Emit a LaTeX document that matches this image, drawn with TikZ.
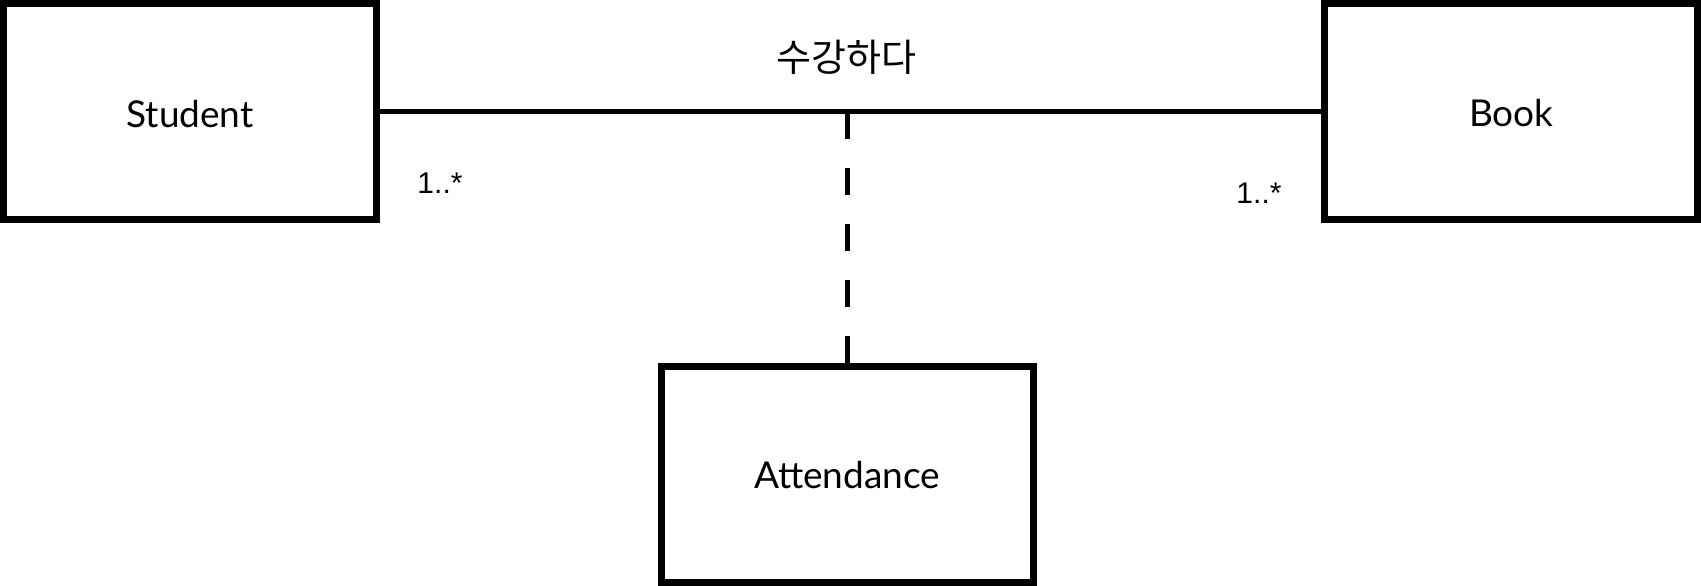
\documentclass[tikz,border=0pt]{standalone}
\usepackage{fontspec}
\setmainfont{Lato}
\newfontfamily\krfont{Noto Sans CJK KR}
\newfontfamily\mulfont{Liberation Sans}
\begin{document}
\begin{tikzpicture}[x=1pt,y=-1pt,
  classbox/.style={draw=black,line width=7pt,fill=white,inner sep=0pt,
    minimum width=373pt,minimum height=215pt},
  cname/.style={font=\fontsize{37}{44}\selectfont,inner sep=0pt,anchor=base},
  mult/.style={font=\mulfont\fontsize{30}{36}\selectfont,inner sep=0pt,anchor=base},
  assoc/.style={line width=5pt},
  assocdash/.style={line width=5pt,dash pattern=on 27pt off 29pt}]
\useasboundingbox (0,0) rectangle (1701,586);
\node[classbox] (student) at (190,111.5) {};
\node[classbox] (book) at (1511,111.5) {};
\node[classbox,minimum width=372pt,minimum height=216pt] (att) at (847.5,474.3) {};
\node[cname] (tstudent) at (190,127) {Student};
\node[cname] (tbook) at (1511.5,126.7) {Book};
\node[cname] (tatt) at (847.2,488.3) {Attendance};
\draw[assoc] (student.east) -- (book.west);
\coordinate (mid) at (847.5,111.5);
\draw[assocdash] (mid) -- (att.north);
\node[font=\krfont\fontsize{38}{45}\selectfont,inner sep=0pt] (rel) at (846.7,57.5) {수강하다};
\node[mult] (m1) at (440,193.3) {1..*};
\node[mult] (m2) at (1259,203) {1..*};
\end{tikzpicture}
\end{document}
